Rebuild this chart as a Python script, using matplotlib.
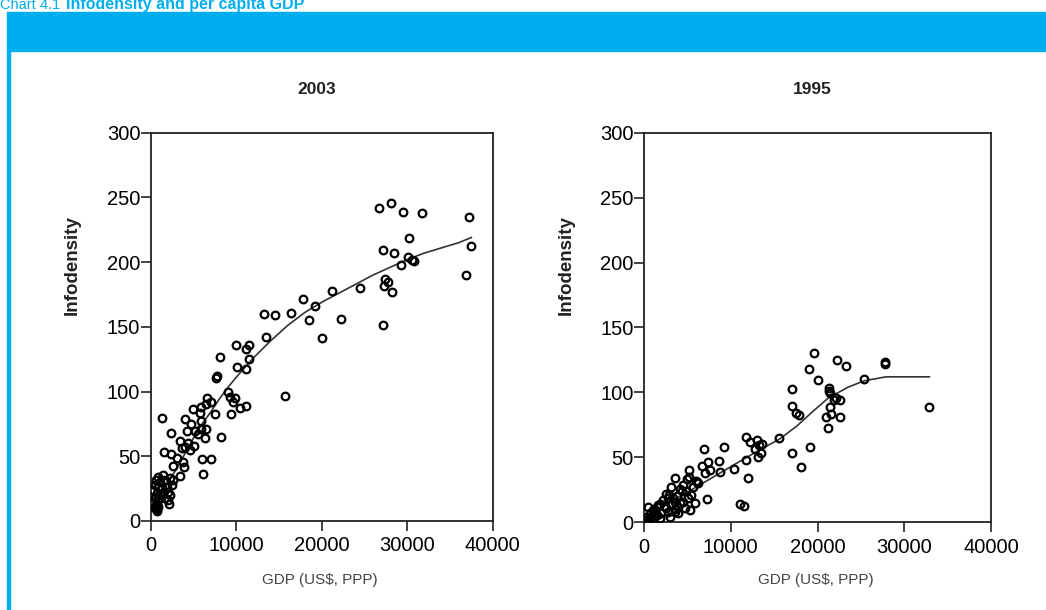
"""Infodensity against per capita GDP, 2003 and 1995 scatter panels"""

import matplotlib
matplotlib.use('Agg')

import matplotlib.pyplot as plt
from matplotlib.patches import Rectangle

# --- data ----------------------------------------------------------------
# 2003 panel
gdp03 = [13290, 14580, 16420, 17870, 19240, 18500, 21200, 22260, 13440, 19990,
         24530, 26730, 28100, 29470, 31700, 37200, 30260, 27120, 28410, 30060,
         30570, 30770, 29240, 37510, 36850, 27400, 27710, 27280, 28180, 27160,
         15700, 9950, 11540, 11190, 8150, 11500, 10110, 11100, 7720, 7680,
         9090, 9330, 9880, 9640, 10420, 11170, 9360,
         1370, 2420, 1600, 2420, 4030, 4940, 5830, 6620, 7060, 5720,
         6420, 7560, 4740, 4230, 5130, 5920, 6500, 3450, 4420, 4030,
         3650, 5010, 4620, 3130, 3760, 3920, 2590, 3450, 6300, 8230,
         6030, 7010, 6110, 2190, 5480, 5920,
         900, 1480, 620, 1090, 1680, 2270, 2660, 510, 900, 1290,
         1880, 2470, 2070, 310, 700, 1090, 1480, 2270, 510, 900,
         1680, 310, 700, 510, 780, 2070, 600, 700, 800, 650, 750]
info03 = [159.8, 159.3, 160.4, 171.2, 166.0, 155.2, 177.4, 156.2, 142.3, 141.3,
          180.4, 242.2, 245.8, 238.6, 238.1, 234.5, 218.8, 209.5, 207.2, 203.6,
          201.5, 200.8, 197.4, 212.1, 190.0, 186.6, 185.0, 181.4, 176.6, 151.3,
          96.6, 136.3, 135.8, 132.7, 126.8, 124.8, 119.0, 117.5, 111.7, 110.8,
          99.4, 96.0, 94.7, 92.1, 87.0, 88.8, 82.6,
          79.8, 67.7, 53.5, 51.7, 79.0, 86.7, 87.8, 95.2, 91.9, 83.2,
          90.3, 82.4, 74.9, 69.7, 69.7, 70.8, 70.8, 61.8, 60.0, 57.4,
          56.1, 57.9, 54.8, 48.4, 45.8, 41.5, 42.5, 35.0, 63.9, 64.6,
          48.1, 47.6, 36.5, 12.9, 66.9, 77.2,
          34.2, 35.5, 31.7, 30.3, 31.7, 33.0, 31.7, 27.8, 26.5, 25.2,
          26.5, 27.8, 22.6, 23.9, 21.4, 20.1, 21.4, 20.1, 17.5, 16.2,
          17.5, 14.9, 12.4, 9.8, 8.0, 16.2, 10.0, 9.0, 11.0, 12.0, 13.0]
fit03_x = [300, 1000, 2000, 3000, 4000, 5000, 6000, 7000, 8000, 9000, 10000,
           12000, 14000, 16000, 18000, 20000, 22000, 24000, 26000, 28000,
           30000, 32000, 34000, 36000, 37500]
fit03_y = [17, 22, 30, 40, 52, 64, 75, 84, 94, 103, 111,
           126, 139, 151, 161, 169, 176, 183, 190, 196,
           202, 207, 211, 215, 219]

# 1995 panel
gdp95 = [19620, 22280, 23240, 18990, 27820, 27820, 25320, 20080, 17030, 21300,
         21300, 21420, 22080, 22620, 21850, 17030, 17540, 17920, 21470, 21000,
         21580, 22580, 21190, 32830, 15610, 19190, 17030, 18110,
         11790, 12250, 13030, 13220, 13610, 12830, 13490, 13100, 11800, 10370,
         11940, 11020, 11560, 9250, 6880, 8600, 8730, 7380, 6650, 7610,
         7050, 5180, 5170, 3550, 3140, 5950, 6280, 4530, 4330, 7220,
         5930, 5300, 3890,
         460, 1040, 1620, 2200, 2770, 1230, 2000, 2580, 3160, 3550,
         850, 1810, 2970, 3930, 4510, 5090, 5470, 4700, 3550, 310,
         690, 1470, 2810, 4160, 1080, 600, 300, 2500, 3800, 4800, 1500,
         1900, 2900, 3300, 4100, 5600, 6100, 2400, 1300, 3600, 4900]
info95 = [130.4, 125.2, 120.6, 118.3, 123.2, 121.8, 110.3, 109.8, 102.6, 103.4,
          101.3, 99.3, 95.5, 94.2, 94.2, 89.3, 83.9, 82.9, 89.0, 81.3,
          83.2, 81.3, 72.6, 88.8, 64.7, 58.2, 53.6, 42.8,
          65.9, 61.6, 63.4, 59.5, 60.3, 56.2, 53.1, 50.5, 48.0, 41.3,
          33.9, 14.1, 12.8, 58.2, 56.7, 47.3, 38.8, 46.4, 43.4, 40.5,
          37.7, 40.5, 35.1, 33.9, 27.4, 32.0, 30.0, 28.7, 24.2, 17.8,
          15.0, 9.5, 6.9,
          12.0, 9.5, 13.3, 17.2, 18.5, 5.6, 6.9, 10.8, 13.3, 15.9,
          3.1, 3.1, 4.3, 12.0, 15.9, 18.5, 21.0, 10.8, 8.2, 4.3,
          6.9, 5.6, 8.2, 14.6, 1.5, 1.0, 1.5, 22.0, 20.0, 24.0, 12.0,
          14.0, 21.0, 19.0, 26.0, 27.0, 31.0, 12.5, 9.0, 10.0, 33.0]
fit95_x = [300, 3400, 6500, 10300, 13400, 15600, 17600, 19400, 21300, 22700,
           23500, 25400, 27900, 32900]
fit95_y = [4, 17, 29, 44, 56, 64, 74, 85, 96, 101, 104, 109, 112, 112]

panels = [("2003", gdp03, info03, fit03_x, fit03_y),
          ("1995", gdp95, info95, fit95_x, fit95_y)]

xticks = [0, 10000, 20000, 30000, 40000]
yticks = [0, 50, 100, 150, 200, 250, 300]

# formatting parameters
plt.rcParams['font.family'] = 'Liberation Sans'
tick_fs = 14.5
title_fs = 12.5
ylabel_fs = 13.5
xlabel_fs = 11
blue = '#00aeef'
axis_lw = 1.3

W, H = 1046, 610
fig = plt.figure(figsize=(W / 100, H / 100), dpi=100, facecolor='w')

# blue header band and left border line
fig.patches.append(Rectangle((7 / W, 1 - 51 / H), 1 - 7 / W, 39 / H,
                             transform=fig.transFigure, color=blue, zorder=0))
fig.patches.append(Rectangle((7 / W, 0), 2.5 / W, 1 - 51 / H,
                             transform=fig.transFigure, color=blue, zorder=0))

# chart caption, cut off at the top edge like in the source
fig.text(0 / W, 1 - 9 / H, "Chart 4.1", color=blue, fontsize=10.5,
         va='baseline')
fig.text(66 / W, 1 - 9 / H, "Infodensity and per capita GDP", color=blue,
         fontsize=11.5, weight='bold', va='baseline')

# axes positions in pixels: left, right, bottom, top
boxes = [(150.7, 492.7, 521.0, 132.7),
         (644.0, 991.0, 522.3, 132.7)]

for (year, gx, gy, fx, fy), (l, r, b, t) in zip(panels, boxes):
    ax = fig.add_axes([l / W, 1 - b / H, (r - l) / W, (b - t) / H])
    ax.plot(fx, fy, '-', color='#333333', lw=1.2, zorder=2)
    ax.plot(gx, gy, 'o', mfc='none', mec='k', ms=5.5, mew=1.6, zorder=3)

    ax.set_xlim(0, 40000)
    ax.set_ylim(0, 300)
    ax.set_xticks(xticks)
    ax.set_yticks(yticks)
    ax.xaxis.tick_bottom()
    ax.yaxis.tick_left()
    ax.tick_params(axis='both', direction='out', length=7, width=1.2,
                   labelsize=tick_fs, color='#222222')
    ax.tick_params(axis='y', pad=0.5)
    ax.tick_params(axis='x', pad=4)
    for sp in ax.spines.values():
        sp.set_linewidth(axis_lw)
        sp.set_color('#222222')

    cx = (l + r) / 2
    fig.text((cx - 5) / W, 1 - 90 / H, year, fontsize=title_fs, weight='bold',
             ha='center', va='center', color='#222222')
    fig.text((l - 78) / W, 1 - 265 / H, "Infodensity", fontsize=ylabel_fs,
             weight='bold', rotation=90, ha='center', va='center',
             color='#222222')
    fig.text((cx - 2) / W, 1 - 580 / H, "GDP (US$, PPP)", fontsize=xlabel_fs,
             ha='center', va='center', color='#444444')

fig.savefig('out.png', dpi=100, facecolor=fig.get_facecolor())
